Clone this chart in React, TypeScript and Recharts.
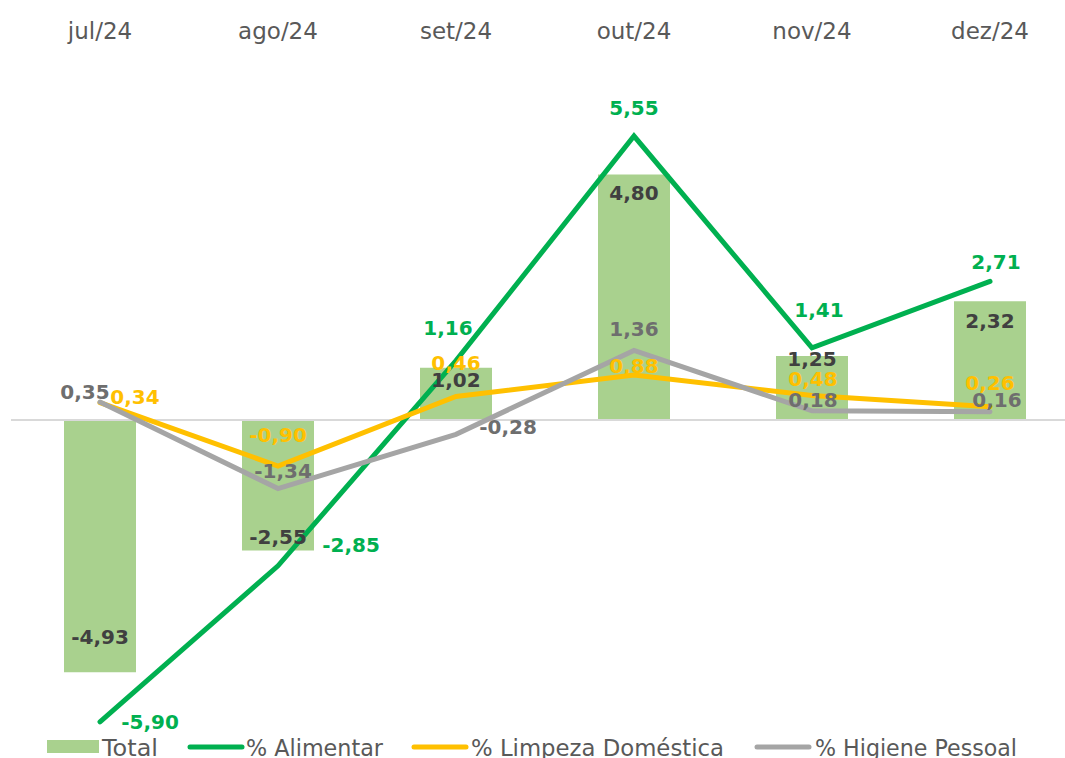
import { ComposedChart, Bar, Line, XAxis, YAxis, ReferenceLine, LabelList } from 'recharts';

const months = ['jul/24', 'ago/24', 'set/24', 'out/24', 'nov/24', 'dez/24'];
const total = [-4.93, -2.55, 1.02, 4.8, 1.25, 2.32];
const alimentar = [-5.9, -2.85, 1.16, 5.55, 1.41, 2.71];
const limpeza = [0.34, -0.9, 0.46, 0.88, 0.48, 0.26];
const higiene = [0.35, -1.34, -0.28, 1.36, 0.18, 0.16];

const data = months.map((m, i) => ({
  month: m,
  total: total[i],
  alimentar: alimentar[i],
  limpeza: limpeza[i],
  higiene: higiene[i],
}));

const FONT = '"DejaVu Sans", sans-serif';

// label nudges, per point [dx, dy] from the value end
const totalOffsets = [[0, -35], [0, -13], [0, 12], [0, 19], [0, 3], [0, 20]];
const alimentarOffsets = [[50, 0], [73, -21], [-8, -33], [0, -28], [7, -38], [6, -19]];
const limpezaOffsets = [[35, -6], [0, -31], [0, -33], [0, -9], [1, -16], [0, -24]];
const higieneOffsets = [[-15, -10], [5, -18], [52, -7], [0, -21], [1, -11], [7, -12]];

const fmt = (v: number) => v.toFixed(2).replace('.', ',');

function makeLabel(offsets: number[][], color: string, isBar = false) {
  return (props: any) => {
    const { x, y, width, value, index } = props;
    const cx = isBar ? x + width / 2 : x;
    const [dx, dy] = offsets[index] || [0, 0];
    return (
      <text
        x={cx + dx}
        y={y + dy}
        textAnchor="middle"
        dominantBaseline="central"
        fill={color}
        fontFamily={FONT}
        fontWeight="bold"
        fontSize={20}
      >
        {fmt(Number(value))}
      </text>
    );
  };
}

const MonthTick = (props: any) => {
  const { x, payload } = props;
  return (
    <text x={x} y={39} textAnchor="middle" fill="#595959" fontFamily={FONT} fontSize={23}>
      {payload.value}
    </text>
  );
};

const legendItems = [
  { name: 'Total', color: '#A9D18E', kind: 'rect', sx: 47, tx: 102, w: 56 },
  { name: '% Alimentar', color: '#00B050', kind: 'line', sx: 190, tx: 246, w: 137 },
  { name: '% Limpeza Doméstica', color: '#FFC000', kind: 'line', sx: 414, tx: 471, w: 253 },
  { name: '% Higiene Pessoal', color: '#A5A5A5', kind: 'line', sx: 757, tx: 815, w: 202 },
];

export default function App() {
  return (
    <div style={{ position: 'absolute', left: 0, top: 0, width: 1065, height: 758, overflow: 'hidden', background: '#fff' }}>
      <ComposedChart
        width={1080}
        height={758}
        data={data}
        margin={{ top: 73, right: 1, bottom: 31, left: 11 }}
      >
        <XAxis
          dataKey="month"
          orientation="top"
          height={40}
          axisLine={false}
          tickLine={false}
          tick={<MonthTick />}
          interval={0}
        />
        <YAxis hide domain={[-6, 6]} />
        <ReferenceLine y={0} stroke="#D9D9D9" strokeWidth={2} />
        <Bar dataKey="total" name="Total" fill="#A9D18E" barSize={72} isAnimationActive={false}>
          <LabelList dataKey="total" content={makeLabel(totalOffsets, '#404040', true)} />
        </Bar>
        <Line
          dataKey="alimentar"
          name="% Alimentar"
          stroke="#00B050"
          strokeWidth={5}
          dot={false}
          strokeLinecap="round"
          isAnimationActive={false}
        >
          <LabelList dataKey="alimentar" content={makeLabel(alimentarOffsets, '#00B050')} />
        </Line>
        <Line
          dataKey="limpeza"
          name="% Limpeza Doméstica"
          stroke="#FFC000"
          strokeWidth={5}
          dot={false}
          strokeLinecap="round"
          isAnimationActive={false}
        >
          <LabelList dataKey="limpeza" content={makeLabel(limpezaOffsets, '#FFC000')} />
        </Line>
        <Line
          dataKey="higiene"
          name="% Higiene Pessoal"
          stroke="#A5A5A5"
          strokeWidth={5}
          dot={false}
          strokeLinecap="round"
          isAnimationActive={false}
        >
          <LabelList dataKey="higiene" content={makeLabel(higieneOffsets, '#6E6E6E')} />
        </Line>
      </ComposedChart>
      {/* legend */}
      <svg width={1065} height={26} style={{ position: 'absolute', left: 0, top: 734 }}>
        {legendItems.map((it) => (
          <g key={it.name}>
            {it.kind === 'rect' ? (
              <rect x={it.sx} y={6} width={52} height={13} fill={it.color} />
            ) : (
              <line x1={it.sx} x2={it.sx + 52} y1={13} y2={13} stroke={it.color} strokeWidth={5} strokeLinecap="round" />
            )}
            <text
              x={it.tx}
              y={22}
              fill="#595959"
              fontFamily={FONT}
              fontSize={23}
              textLength={it.w}
              lengthAdjust="spacingAndGlyphs"
            >
              {it.name}
            </text>
          </g>
        ))}
      </svg>
    </div>
  );
}
